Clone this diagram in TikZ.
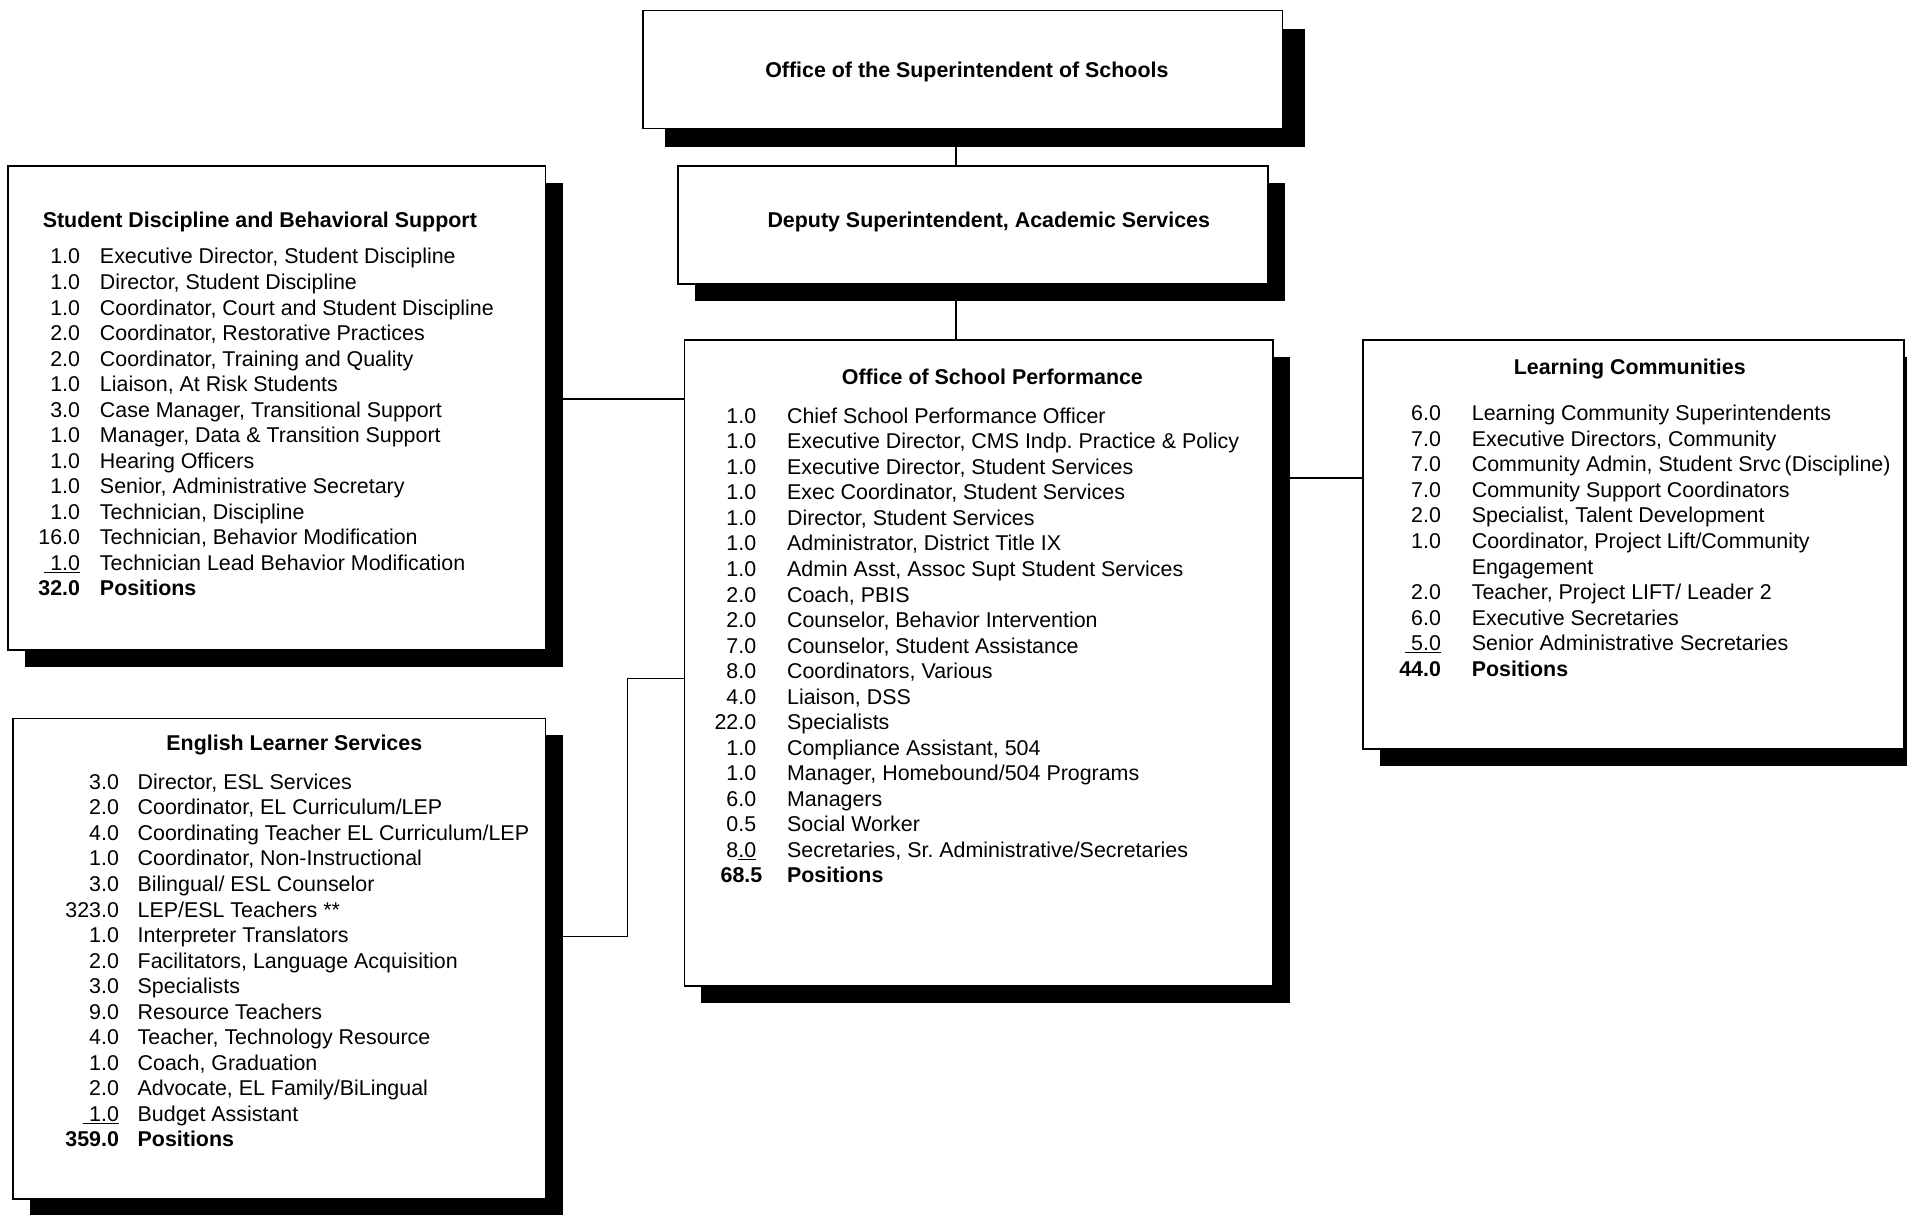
\documentclass[tikz,border=0pt]{standalone}
\usepackage{fontspec}
\setmainfont{Liberation Sans}
\frenchspacing
\usetikzlibrary{shadows}
\tikzset{
  boxbase/.style={draw=black, line width=1.3pt, fill=white, inner sep=0pt, anchor=north west},
  box/.style={boxbase, drop shadow={shadow xshift=14pt, shadow yshift=-14pt, fill=black, opacity=1}},
  bigbox/.style={boxbase, drop shadow={shadow xshift=18pt, shadow yshift=-15pt, fill=black, opacity=1}},
  conn/.style={line width=1.2pt},
  ttl/.style={font=\fontsize{17.6}{21}\selectfont\bfseries\frenchspacing, inner sep=0pt, anchor=base},
  lst/.style={font=\fontsize{17.6}{21}\selectfont\frenchspacing, inner sep=0pt},
}
\begin{document}
\begin{tikzpicture}[x=1pt, y=-1pt]
\path[use as bounding box, fill=white] (0,0) rectangle (1568,999);
\clip (0,0) rectangle (1568,999);

% helper coordinates for connector routes
\coordinate (trunk) at (786,0);
\coordinate (lvA) at (0,328);
\coordinate (lvB) at (0,770);
\coordinate (lvC) at (0,558);
\coordinate (elbow) at (516,0);
\coordinate (lvD) at (0,393);

% boxes
\node[bigbox, minimum width=526pt, minimum height=97pt] (sup) at (528,8) {};
\node[box, minimum width=485pt, minimum height=97pt] (dep) at (557,136) {};
\node[box, minimum width=484pt, minimum height=531pt] (osp) at (562,279) {};
\node[box, minimum width=442pt, minimum height=398pt] (sdbs) at (6,136) {};
\node[box, minimum width=438pt, minimum height=395pt] (els) at (10,590) {};
\node[box, minimum width=445pt, minimum height=336pt] (lc) at (1120,279) {};

% connectors
\draw[conn] (sup.south -| trunk) -- (dep.north -| trunk);
\draw[conn] (dep.south -| trunk) -- (osp.north -| trunk);
\draw[conn] (sdbs.east |- lvA) -- (osp.west |- lvA);
\draw[conn] (els.east |- lvB) -| (elbow |- lvC) -- (osp.west |- lvC);
\draw[conn] (osp.east |- lvD) -- (lc.west |- lvD);

% titles
\node[ttl] (supT) at (795,64) {Office of the Superintendent of Schools};
\node[ttl] (depT) at (813,187) {Deputy Superintendent, Academic Services};
\node[ttl, anchor=base west] (sdbsT) at (35,187) {Student Discipline and Behavioral Support};
\node[ttl] (ospT) at (816,316) {Office of School Performance};
\node[ttl] (lcT) at (1340,308) {Learning Communities};
\node[ttl] (elsT) at (242,617) {English Learner Services};

% Student Discipline and Behavioral Support
\node[lst, anchor=base east] (sdbsN) at (66,217) {\begin{tabular}[t]{@{}r@{}}
1.0\\1.0\\1.0\\2.0\\2.0\\1.0\\3.0\\1.0\\1.0\\1.0\\1.0\\16.0\\\underline{\ 1.0}\\\textbf{32.0}
\end{tabular}};
\node[lst, anchor=base west] (sdbsL) at (82,217) {\begin{tabular}[t]{@{}l@{}}
Executive Director, Student Discipline\\
Director, Student Discipline\\
Coordinator, Court and Student Discipline\\
Coordinator, Restorative Practices\\
Coordinator, Training and Quality\\
Liaison, At Risk Students\\
Case Manager, Transitional Support\\
Manager, Data \& Transition Support\\
Hearing Officers\\
Senior, Administrative Secretary\\
Technician, Discipline\\
Technician, Behavior Modification\\
Technician Lead Behavior Modification\\
\textbf{Positions}
\end{tabular}};

% Office of School Performance
\node[lst, anchor=base east] (ospN) at (622,348) {\begin{tabular}[t]{@{}r@{}}
1.0\\1.0\\1.0\\1.0\\1.0\\1.0\\1.0\\2.0\\2.0\\7.0\\8.0\\4.0\\22.0\\1.0\\1.0\\6.0\\0.5\\8\underline{.0}\\\textbf{68.5}\hspace{-5pt}
\end{tabular}};
\node[lst, anchor=base west] (ospL) at (647,348) {\begin{tabular}[t]{@{}l@{}}
Chief School Performance Officer\\
Executive Director, CMS Indp.\ Practice \& Policy\\
Executive Director, Student Services\\
Exec Coordinator, Student Services\\
Director, Student Services\\
Administrator, District Title IX\\
Admin Asst, Assoc Supt Student Services\\
Coach, PBIS\\
Counselor, Behavior Intervention\\
Counselor, Student Assistance\\
Coordinators, Various\\
Liaison, DSS\\
Specialists\\
Compliance Assistant, 504\\
Manager, Homebound/504 Programs\\
Managers\\
Social Worker\\
Secretaries, Sr.\ Administrative/Secretaries\\
\textbf{Positions}
\end{tabular}};

% Learning Communities
\node[lst, anchor=base east] (lcN) at (1185,346) {\begin{tabular}[t]{@{}r@{}}
6.0\\7.0\\7.0\\7.0\\2.0\\1.0\\ \\2.0\\6.0\\\underline{\ 5.0}\\\textbf{44.0}
\end{tabular}};
\node[lst, anchor=base west] (lcL) at (1210,346) {\begin{tabular}[t]{@{}l@{}}
Learning Community Superintendents\\
Executive Directors, Community\\
Community Admin, Student Srvc\,(Discipline)\\
Community Support Coordinators\\
Specialist, Talent Development\\
Coordinator, Project Lift/Community\\
Engagement\\
Teacher, Project LIFT/ Leader 2\\
Executive Secretaries\\
Senior Administrative Secretaries\\
\textbf{Positions}
\end{tabular}};

% English Learner Services
\node[lst, anchor=base east] (elsN) at (98,649) {\begin{tabular}[t]{@{}r@{}}
3.0\\2.0\\4.0\\1.0\\3.0\\323.0\\1.0\\2.0\\3.0\\9.0\\4.0\\1.0\\2.0\\\underline{\ 1.0}\\\textbf{359.0}
\end{tabular}};
\node[lst, anchor=base west] (elsL) at (113,649) {\begin{tabular}[t]{@{}l@{}}
Director, ESL Services\\
Coordinator, EL Curriculum/LEP\\
Coordinating Teacher EL Curriculum/LEP\\
Coordinator, Non-Instructional\\
Bilingual/ ESL Counselor\\
LEP/ESL Teachers **\\
Interpreter Translators\\
Facilitators, Language Acquisition\\
Specialists\\
Resource Teachers\\
Teacher, Technology Resource\\
Coach, Graduation\\
Advocate, EL Family/BiLingual\\
Budget Assistant\\
\textbf{Positions}
\end{tabular}};
\end{tikzpicture}
\end{document}
